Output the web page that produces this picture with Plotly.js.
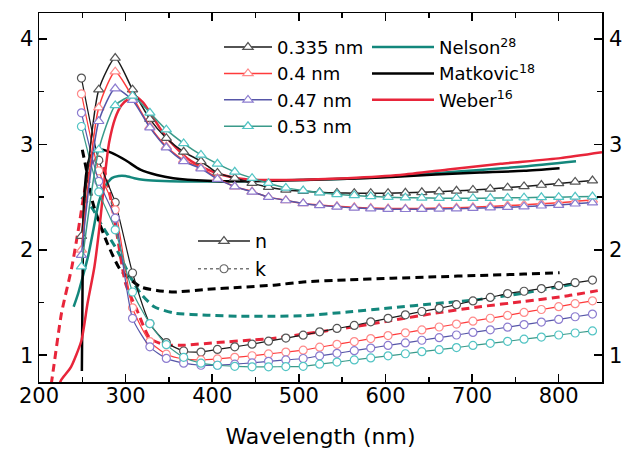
<!DOCTYPE html>
<html>
<head>
<meta charset="utf-8">
<script src="https://cdn.plot.ly/plotly-3.0.1.min.js"></script>
<style>html,body{margin:0;padding:0;background:#fff;}#chart{width:624px;height:456px;}</style>
</head>
<body>
<div id="chart"></div>
<script>
// ---- measured data (wavelength grid, nm) ----
const lam = [249, 269, 288, 308, 328, 347, 367, 387, 406, 426, 446, 465, 485, 505, 524, 544, 564, 583, 603, 623, 642, 662, 682, 701, 721, 741, 760, 780, 800, 819, 839];

const n0335 = [2.13, 3.52, 3.82, 3.52, 3.24, 3.06, 2.93, 2.84, 2.73, 2.68, 2.632, 2.594, 2.568, 2.556, 2.546, 2.540, 2.537, 2.537, 2.538, 2.541, 2.546, 2.552, 2.560, 2.568, 2.578, 2.590, 2.602, 2.615, 2.630, 2.644, 2.657];
const n04   = [2.00, 3.35, 3.69, 3.45, 3.17, 2.98, 2.85, 2.78, 2.68, 2.60, 2.553, 2.500, 2.470, 2.440, 2.425, 2.413, 2.403, 2.396, 2.392, 2.391, 2.392, 2.396, 2.400, 2.405, 2.412, 2.420, 2.428, 2.437, 2.446, 2.460, 2.473];
const n047  = [1.95, 3.22, 3.53, 3.42, 3.16, 2.97, 2.84, 2.77, 2.67, 2.60, 2.550, 2.500, 2.468, 2.440, 2.422, 2.408, 2.398, 2.390, 2.386, 2.385, 2.386, 2.388, 2.390, 2.395, 2.400, 2.405, 2.410, 2.418, 2.425, 2.437, 2.448];
const n053  = [1.84, 2.95, 3.37, 3.46, 3.30, 3.14, 3.01, 2.90, 2.816, 2.74, 2.68, 2.632, 2.588, 2.562, 2.542, 2.527, 2.516, 2.507, 2.500, 2.495, 2.492, 2.490, 2.490, 2.490, 2.491, 2.493, 2.495, 2.498, 2.500, 2.503, 2.505];

const k0335 = [3.63, 2.85, 2.45, 1.78, 1.30, 1.12, 1.04, 1.03, 1.055, 1.08, 1.105, 1.133, 1.163, 1.19, 1.222, 1.254, 1.283, 1.317, 1.35, 1.383, 1.415, 1.445, 1.48, 1.515, 1.548, 1.585, 1.607, 1.632, 1.66, 1.688, 1.713];
const k04   = [3.48, 2.75, 2.38, 1.45, 1.13, 1.01, 0.965, 0.955, 0.965, 0.98, 0.995, 1.012, 1.03, 1.048, 1.076, 1.103, 1.13, 1.158, 1.186, 1.213, 1.24, 1.268, 1.296, 1.323, 1.351, 1.378, 1.406, 1.434, 1.461, 1.489, 1.516];
const k047  = [3.30, 2.65, 2.30, 1.35, 1.08, 0.97, 0.925, 0.905, 0.905, 0.915, 0.928, 0.942, 0.955, 0.969, 0.994, 1.018, 1.043, 1.068, 1.093, 1.117, 1.142, 1.167, 1.192, 1.216, 1.241, 1.266, 1.291, 1.315, 1.34, 1.365, 1.39];
const k053  = [3.17, 2.55, 2.19, 1.60, 1.30, 1.10, 0.98, 0.925, 0.905, 0.895, 0.89, 0.89, 0.892, 0.895, 0.915, 0.935, 0.955, 0.974, 0.994, 1.014, 1.034, 1.053, 1.073, 1.093, 1.113, 1.132, 1.152, 1.172, 1.192, 1.211, 1.231];

// ---- literature data ----
const lamNelsonN = [240, 245, 251, 257, 263, 269, 276, 284, 292, 300, 310, 320, 336, 351, 377, 402, 453, 505, 556, 607, 658, 709, 760, 820];
const nNelson    = [1.46, 1.58, 1.76, 1.95, 2.2, 2.45, 2.6, 2.68, 2.70, 2.70, 2.68, 2.665, 2.655, 2.65, 2.648, 2.648, 2.652, 2.662, 2.675, 2.695, 2.727, 2.758, 2.79, 2.84];
const lamNelsonK = [249, 261, 272, 290, 305, 317, 333, 356, 394, 433, 471, 505, 556, 607, 658, 709, 760, 820];
const kNelson    = [2.5, 2.4, 2.24, 2.0, 1.75, 1.59, 1.46, 1.40, 1.38, 1.37, 1.37, 1.375, 1.41, 1.45, 1.49, 1.53, 1.59, 1.68];

const lamMatN = [249.5, 250.5, 252, 255, 259, 265, 273, 284, 300, 317, 336, 355, 394, 433, 505, 556, 607, 658, 709, 760, 801];
const nMat    = [0.85, 1.9, 2.45, 2.75, 2.88, 2.94, 2.95, 2.92, 2.85, 2.76, 2.71, 2.68, 2.655, 2.65, 2.663, 2.675, 2.69, 2.715, 2.733, 2.75, 2.775];
const lamMatK = [250, 255, 262, 270, 279, 294, 317, 336, 356, 394, 433, 471, 505, 556, 607, 658, 709, 760, 801];
const kMat    = [2.95, 2.75, 2.45, 2.25, 2.06, 1.81, 1.65, 1.615, 1.60, 1.625, 1.645, 1.665, 1.695, 1.715, 1.73, 1.744, 1.757, 1.77, 1.782];

const lamWebN = [222, 226, 237, 249, 256, 264, 271, 276, 281, 288, 295, 303, 311, 320, 330, 340, 351, 371, 392, 412, 433, 454, 505, 556, 617, 675, 733, 802, 850];
const nWeb    = [0.70, 0.77, 0.89, 1.14, 1.49, 1.84, 2.3, 2.7, 3.02, 3.25, 3.37, 3.43, 3.455, 3.40, 3.28, 3.15, 3.03, 2.87, 2.77, 2.71, 2.675, 2.663, 2.665, 2.68, 2.71, 2.765, 2.816, 2.87, 2.925];
const lamWebK = [212, 217, 226, 238, 246, 254, 262, 270, 280, 290, 300, 313, 328, 345, 367, 405, 447, 470, 505, 556, 607, 658, 709, 760, 811, 850];
const kWeb    = [0.6, 0.89, 1.40, 1.84, 2.22, 2.62, 2.85, 2.88, 2.6, 2.15, 1.68, 1.43, 1.16, 1.10, 1.095, 1.12, 1.145, 1.16, 1.20, 1.26, 1.33, 1.40, 1.46, 1.51, 1.565, 1.62];

const xTicks = [200, 300, 400, 500, 600, 700, 800];
const xMinor = [250, 350, 450, 550, 650, 750, 850];
const yTicks = [1, 2, 3, 4];
const yMinor = [1.5, 2.5, 3.5];

const seriesNames = ['0.335 nm', '0.4 nm', '0.47 nm', '0.53 nm'];
const litNames = ['Nelson<sup>28</sup>', 'Matkovic<sup>18</sup>', 'Weber<sup>16</sup>'];

// ---- styles ----
const measLine = ['#1a1a1a', '#ff3b3b', '#5656a8', '#3a9a8a'];
const measMark = ['#555555', '#ff8a8a', '#8c7cd0', '#52c4c4'];
const litColor = ['#13877c', '#000000', '#e8253a'];

const nSets = [n0335, n04, n047, n053];
const kSets = [k0335, k04, k047, k053];

const traces = [];
const litN = [[lamNelsonN, nNelson], [lamMatN, nMat], [lamWebN, nWeb]];
const litK = [[lamNelsonK, kNelson], [lamMatK, kMat], [lamWebK, kWeb]];
litK.forEach((d, i) => traces.push({
  x: d[0], y: d[1], mode: 'lines', showlegend: false,
  line: {color: litColor[i], width: 3, dash: '8px,5px', shape: 'spline', smoothing: 0.6},
  hoverinfo: 'skip'
}));
litN.forEach((d, i) => traces.push({
  x: d[0], y: d[1], mode: 'lines', name: litNames[i], legend: 'legend2',
  line: {color: litColor[i], width: 2.5, shape: 'spline', smoothing: 0.6}
}));
kSets.forEach((k, i) => traces.push({
  x: lam, y: k, mode: 'lines+markers', showlegend: false,
  line: {color: measLine[i], width: 1.2, shape: 'spline', smoothing: 0.6},
  marker: {symbol: 'circle', size: 8, color: '#ffffff', line: {color: measMark[i], width: 1.2}}
}));
nSets.forEach((n, i) => traces.push({
  x: lam, y: n, mode: 'lines+markers', name: seriesNames[i], legend: 'legend',
  line: {color: measLine[i], width: 1.5, shape: 'spline', smoothing: 0.6},
  marker: {symbol: 'triangle-up', size: 9, color: '#ffffff', line: {color: measMark[i], width: 1.2}}
}));
// n / k key (legend-only entries)
traces.push({x: [null], y: [null], yaxis: 'y2', mode: 'lines+markers', name: 'n', legend: 'legend3',
  line: {color: '#222', width: 1.5}, marker: {symbol: 'triangle-up', size: 9, color: '#fff', line: {color: '#555', width: 1.2}}});
traces.push({x: [null], y: [null], yaxis: 'y2', mode: 'lines+markers', name: 'k', legend: 'legend3',
  line: {color: '#777', width: 1.5, dash: 'dot'}, marker: {symbol: 'circle', size: 8, color: '#fff', line: {color: '#666', width: 1.2}}});

const axBase = {
  showgrid: false, zeroline: false, showline: true, linecolor: '#000', linewidth: 1.5,
  ticks: 'inside', ticklen: 8, tickwidth: 1.5, tickcolor: '#000',
  tickfont: {size: 21, color: '#000'}
};
const yRange = [0.746, 4.247];

const layout = {
  width: 624, height: 456,
  margin: {l: 39, r: 22, t: 13, b: 74},
  paper_bgcolor: '#fff', plot_bgcolor: '#fff',
  font: {family: 'DejaVu Sans, sans-serif', color: '#000', size: 18},
  xaxis: Object.assign({}, axBase, {
    range: [200, 850], tickvals: xTicks, mirror: 'ticks', ticklabelstandoff: -6,
    minor: {tickvals: xMinor, ticks: 'inside', ticklen: 5, tickwidth: 1.5, tickcolor: '#000'},
    title: {text: 'Wavelength (nm)', font: {size: 22}, standoff: 22}
  }),
  yaxis: Object.assign({}, axBase, {
    range: yRange, tickvals: yTicks, mirror: 'ticks', ticklabelstandoff: 0,
    minor: {tickvals: yMinor, ticks: 'inside', ticklen: 5, tickwidth: 1.5, tickcolor: '#000'}
  }),
  yaxis2: {
    range: yRange, tickvals: yTicks, overlaying: 'y', side: 'right', anchor: 'x',
    showgrid: false, zeroline: false, showline: false, ticks: '', ticklabelstandoff: 6,
    tickfont: {size: 21, color: '#000'}
  },
  legend: {x: 0.3197, y: 0.957, xanchor: 'left', yanchor: 'top', bgcolor: 'rgba(0,0,0,0)', font: {size: 18}, itemwidth: 48, tracegroupgap: 0},
  legend2: {x: 0.5826, y: 0.957, xanchor: 'left', yanchor: 'top', bgcolor: 'rgba(0,0,0,0)', font: {size: 18}, itemwidth: 62},
  legend3: {x: 0.2735, y: 0.433, xanchor: 'left', yanchor: 'top', bgcolor: 'rgba(0,0,0,0)', font: {size: 19}, itemwidth: 52},
  showlegend: true
};

Plotly.newPlot('chart', traces, layout, {staticPlot: true, displayModeBar: false});
</script>
</body>
</html>
